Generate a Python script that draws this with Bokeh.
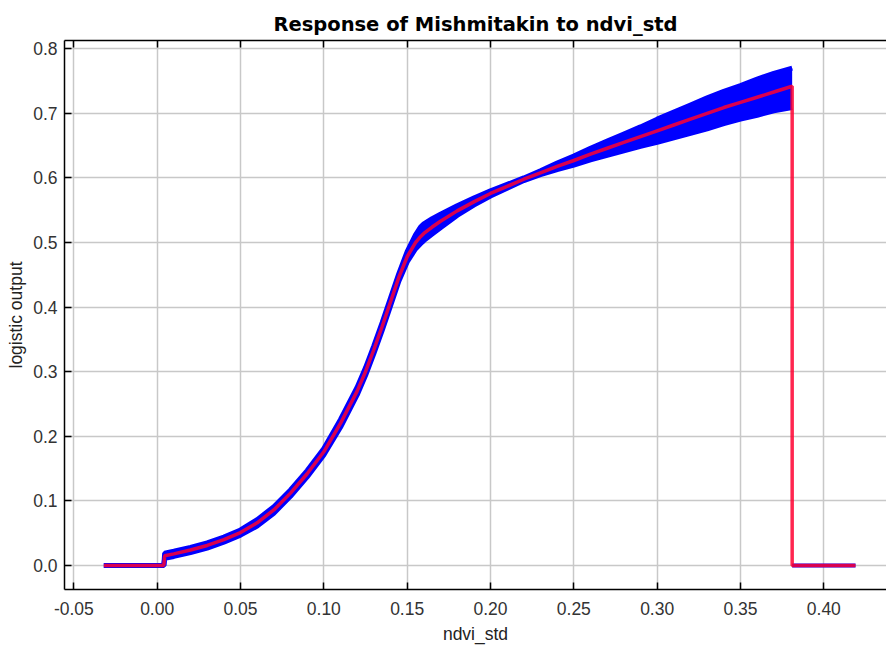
from bokeh.plotting import figure
from bokeh.models import Range1d, LinearAxis, FixedTicker, CustomJSTickFormatter
from bokeh.embed import file_html
from bokeh.resources import INLINE

# ---- data ----
band_x = [-0.032, 0.004, 0.0045, 0.01, 0.02, 0.03, 0.04, 0.05, 0.06, 0.07, 0.08, 0.09,
          0.10, 0.11, 0.12, 0.125, 0.13, 0.135, 0.14, 0.145, 0.15, 0.155, 0.158, 0.16,
          0.165, 0.17, 0.18, 0.19, 0.20, 0.21, 0.22, 0.23, 0.24, 0.25, 0.26, 0.27, 0.28,
          0.29, 0.30, 0.31, 0.32, 0.33, 0.34, 0.35, 0.36, 0.37, 0.381]
mean_y = [0, 0, 0.015, 0.018, 0.024, 0.031, 0.040, 0.051, 0.066, 0.086, 0.112, 0.142,
          0.176, 0.220, 0.270, 0.300, 0.334, 0.370, 0.408, 0.446, 0.478, 0.500, 0.509, 0.514,
          0.524, 0.533, 0.549, 0.563, 0.576, 0.587, 0.598, 0.608, 0.618, 0.627, 0.637, 0.646, 0.655,
          0.664, 0.673, 0.682, 0.691, 0.700, 0.709, 0.717, 0.725, 0.733, 0.742]
upper_y = [0, 0, 0.019, 0.022, 0.028, 0.035, 0.044, 0.055, 0.071, 0.091, 0.117, 0.147,
           0.181, 0.226, 0.276, 0.306, 0.340, 0.376, 0.414, 0.452, 0.486, 0.512, 0.524, 0.529,
           0.537, 0.544, 0.557, 0.569, 0.580, 0.590, 0.600, 0.611, 0.623, 0.634, 0.646, 0.657, 0.668,
           0.679, 0.691, 0.702, 0.713, 0.724, 0.734, 0.743, 0.753, 0.762, 0.770]
lower_y = [0, 0, 0.011, 0.014, 0.020, 0.027, 0.036, 0.047, 0.061, 0.081, 0.107, 0.137,
           0.171, 0.214, 0.264, 0.294, 0.328, 0.364, 0.402, 0.440, 0.470, 0.490, 0.498, 0.503,
           0.513, 0.523, 0.542, 0.558, 0.572, 0.584, 0.596, 0.605, 0.613, 0.620, 0.628, 0.635, 0.642,
           0.649, 0.655, 0.662, 0.669, 0.676, 0.684, 0.691, 0.697, 0.704, 0.709]
# drop to zero after the last sampled value, then flat to the end of the range
tail_x = [0.381, 0.419]
tail_y = [0, 0]

x_ticks = [-0.05, 0.00, 0.05, 0.10, 0.15, 0.20, 0.25, 0.30, 0.35, 0.40]
y_ticks = [0.0, 0.1, 0.2, 0.3, 0.4, 0.5, 0.6, 0.7, 0.8]

resp_x = band_x + tail_x
resp_y = mean_y + tail_y

BLUE = "#0000ff"
RED = "#ff0030"
FONT = "Liberation Sans"

p = figure(width=886, height=653, output_backend="svg", toolbar_location=None,
           x_range=Range1d(-0.0556, 0.4376), y_range=Range1d(-0.0372, 0.8128),
           min_border_left=64, min_border_right=0, min_border_top=40, min_border_bottom=64,
           title="Response of Mishmitakin to ndvi_std")
p.title.align = "center"
p.title.text_font = "DejaVu Sans"
p.title.text_font_style = "bold"
p.title.text_font_size = "19.5px"
p.title.text_color = "#000000"
p.title.offset = 0
p.outline_line_color = None
p.background_fill_color = "white"
p.border_fill_color = "white"

for ax in (p.xaxis[0], p.yaxis[0]):
    ax.major_tick_in = 7
    ax.major_tick_out = 0
    ax.minor_tick_in = 0
    ax.minor_tick_out = 0
    ax.axis_line_color = "black"
    ax.axis_line_width = 1.5
    ax.major_tick_line_color = "black"
    ax.major_tick_line_width = 1.5
    ax.major_label_text_font = FONT
    ax.major_label_text_font_size = "17.5px"
    ax.major_label_text_color = "#333333"
    ax.axis_label_text_font = FONT
    ax.axis_label_text_font_size = "17.5px"
    ax.axis_label_text_font_style = "normal"
    ax.axis_label_text_color = "#222222"

p.xaxis[0].ticker = FixedTicker(ticks=x_ticks)
p.yaxis[0].ticker = FixedTicker(ticks=y_ticks)
p.xaxis[0].major_label_overrides = {t: f"{t:.2f}" for t in x_ticks}
p.yaxis[0].major_label_overrides = {t: f"{t:.1f}" for t in y_ticks}
p.xaxis[0].axis_label = "ndvi_std"
p.yaxis[0].axis_label = "logistic output"
p.xaxis[0].major_label_standoff = 12
p.yaxis[0].major_label_standoff = 7
p.xaxis[0].axis_label_standoff = 6
p.yaxis[0].axis_label_standoff = 4

top = LinearAxis(ticker=FixedTicker(ticks=x_ticks),
                 formatter=CustomJSTickFormatter(code="return '';"),
                 major_tick_in=7, major_tick_out=0, minor_tick_in=0, minor_tick_out=0,
                 axis_line_width=1.5, major_tick_line_width=1.5, major_label_standoff=0)
p.add_layout(top, "above")

p.xgrid.ticker = FixedTicker(ticks=x_ticks)
p.ygrid.ticker = FixedTicker(ticks=y_ticks)
p.grid.grid_line_color = "#c8c8c8"
p.grid.grid_line_width = 1.5

# bootstrap band
p.varea(x=band_x, y1=lower_y, y2=upper_y, fill_color=BLUE, fill_alpha=1.0)
p.line(band_x, upper_y, line_color=BLUE, line_width=5)
p.line(band_x, lower_y, line_color=BLUE, line_width=5)
p.line(resp_x[-2:], resp_y[-2:], line_color=BLUE, line_width=4)
# mean response
p.line(resp_x, resp_y, line_color=RED, line_width=3.5, line_alpha=0.85)

open("out.html", "w").write(file_html(p, INLINE))
